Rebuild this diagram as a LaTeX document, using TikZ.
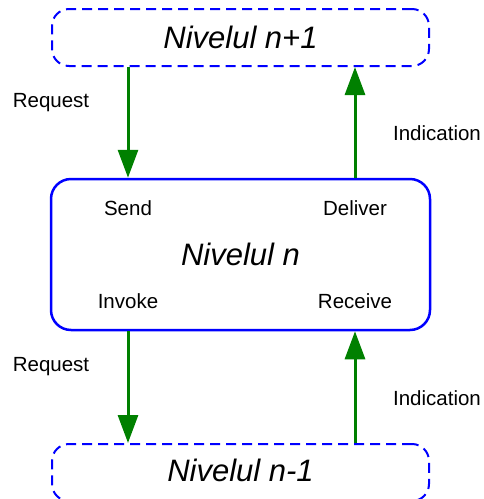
\documentclass[tikz,border=0pt]{standalone}
\usepackage{fontspec}
\setmainfont{Liberation Sans}
\usetikzlibrary{arrows.meta}

\definecolor{layerblue}{RGB}{0,0,255}
\definecolor{flowgreen}{RGB}{0,128,0}

\tikzset{
  layer/.style={draw=layerblue, line width=2pt, dash pattern=on 10pt off 6pt,
    rounded corners=17pt, minimum width=377pt, minimum height=57pt,
    font=\fontsize{31}{37}\selectfont\itshape},
  midlayer/.style={draw=layerblue, line width=2.5pt, rounded corners=20pt,
    minimum width=379pt, minimum height=151pt,
    font=\fontsize{31}{37}\selectfont\itshape},
  prim/.style={font=\fontsize{20.5}{24}\selectfont},
  flow/.style={draw=flowgreen, line width=3pt, -{Triangle[length=28pt,width=20pt]}}
}

\begin{document}
\begin{tikzpicture}[x=1pt,y=-1pt]
  \useasboundingbox (0,0) rectangle (483,499);
  % the three layers
  \node[layer] (upper) at (240.5,37.5) {Nivelul n+1};
  \node[midlayer] (mid) at (240.5,254.5) {Nivelul n};
  \node[layer] (lower) at (240.5,472.5) {\raisebox{4pt}{Nivelul n-1}};
  % service primitives
  \node[prim] (send) at (128,208) {Send};
  \node[prim] (deliver) at (355,208) {Deliver};
  \node[prim] (invoke) at (128,301) {Invoke};
  \node[prim] (receive) at (355,301) {Receive};
  % arrows between layers
  \draw[flow] (upper.south -| send) -- (mid.north -| send);
  \draw[flow] (mid.north -| deliver) -- (upper.south -| deliver);
  \draw[flow] (mid.south -| invoke) -- (lower.north -| invoke);
  \draw[flow] (lower.north -| receive) -- (mid.south -| receive);
  % arrow labels
  \node[prim] (req1) at (51,103) {Request};
  \node[prim] (ind1) at (437,133) {Indication};
  \node[prim] (req2) at (51,367) {Request};
  \node[prim] (ind2) at (437,398) {Indication};
\end{tikzpicture}
\end{document}
